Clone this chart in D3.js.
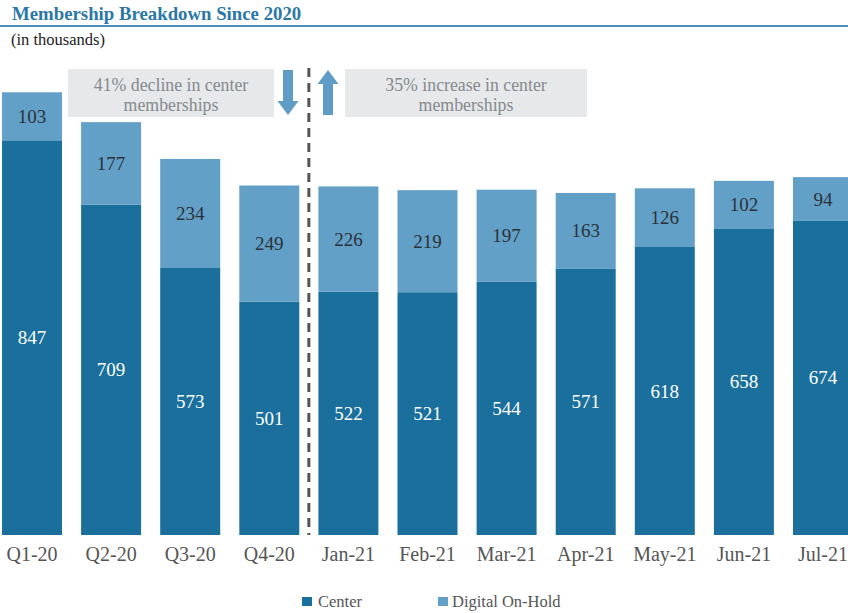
<!DOCTYPE html>
<html><head><meta charset="utf-8">
<script src="https://cdn.jsdelivr.net/npm/d3@7"></script>
<style>body{margin:0;background:#fff;}svg{display:block;}</style>
</head><body><svg id="c" width="848" height="613"></svg>
<script>
const categories = ["Q1-20","Q2-20","Q3-20","Q4-20","Jan-21","Feb-21","Mar-21","Apr-21","May-21","Jun-21","Jul-21"];
const center = [847,709,573,501,522,521,544,571,618,658,674];
const digital = [103,177,234,249,226,219,197,163,126,102,94];
const seriesNames = ["Center","Digital On-Hold"];
const colors = ["#1a6f9c","#62a0c8"];
const FONT = "Liberation Serif";

const svg = d3.select("#c");
const x = d3.scaleBand().domain(categories).range([2, 853]).paddingInner(0.2415).paddingOuter(0);
const y = d3.scaleLinear().domain([0, 1000]).range([535, 69]);

// title
svg.append("text").attr("x", 12).attr("y", 20).attr("font-family", FONT).attr("fill", "#2b78a6").attr("font-weight", "bold").attr("font-size", 18.8).text("Membership Breakdown Since 2020");
svg.append("line").attr("x1", 0).attr("x2", 848).attr("y1", 26).attr("y2", 26).attr("stroke", "#4b8fb8").attr("stroke-width", 2);
svg.append("text").attr("x", 11).attr("y", 45).attr("font-family", FONT).attr("fill", "#222").attr("font-size", 16.5).text("(in thousands)");

const data = categories.map((c, i) => ({c, center: center[i], digital: digital[i]}));
const stack = d3.stack().keys(["center","digital"])(data);

const g = svg.append("g");
stack.forEach((layer, li) => {
  g.selectAll(null).data(layer).enter().append("rect")
    .attr("x", d => x(d.data.c)).attr("width", x.bandwidth())
    .attr("y", d => y(d[1])).attr("height", d => y(d[0]) - y(d[1]))
    .attr("fill", colors[li]);
  g.selectAll(null).data(layer).enter().append("text")
    .attr("x", d => x(d.data.c) + x.bandwidth()/2)
    .attr("y", d => (y(d[0]) + y(d[1]))/2 + 6.5)
    .attr("text-anchor", "middle").attr("font-size", 19).attr("font-family", FONT)
    .attr("fill", li === 0 ? "#ffffff" : "#2b3238")
    .text(d => d[1] - d[0]);
});

// x axis labels
const xAxis = d3.axisBottom(x).tickSize(0).tickPadding(9);
const ax = svg.append("g").attr("transform", "translate(0,538)").call(xAxis);
ax.attr("font-family", FONT);
ax.select(".domain").remove();
ax.selectAll("text").attr("font-size", 20).attr("fill", "#555").attr("font-family", FONT);

// divider
const divX = (x("Q4-20") + x.bandwidth() + x("Jan-21")) / 2;
svg.append("line").attr("x1", divX).attr("x2", divX).attr("y1", 68).attr("y2", 535)
  .attr("stroke", "#555").attr("stroke-width", 3).attr("stroke-dasharray", "9,6");

// annotation boxes
function box(x0, x1, lines) {
  svg.append("rect").attr("x", x0).attr("y", 69).attr("width", x1 - x0).attr("height", 48).attr("fill", "#e6e8e9");
  lines.forEach((t, i) => svg.append("text").attr("x", (x0 + x1)/2).attr("y", 91 + i*20).attr("text-anchor", "middle")
    .attr("font-family", FONT).attr("font-size", 17.8).attr("fill", "#858a8e").text(t));
}
box(68, 274, ["41% decline in center", "memberships"]);
box(345, 587, ["35% increase in center", "memberships"]);

// arrows
function arrow(cx, down) {
  const top = 70, bot = 115, hw = 10.5, sw = 5, hh = 14;
  let p;
  if (down) p = [[cx-sw,top],[cx+sw,top],[cx+sw,bot-hh],[cx+hw,bot-hh],[cx,bot],[cx-hw,bot-hh],[cx-sw,bot-hh]];
  else p = [[cx-sw,bot],[cx+sw,bot],[cx+sw,top+hh],[cx+hw,top+hh],[cx,top],[cx-hw,top+hh],[cx-sw,top+hh]];
  svg.append("path").attr("d", d3.line()(p) + "Z").attr("fill", "#5f9dc6");
}
arrow(288, true);
arrow(328, false);

// legend
const leg = [[302, 318], [438, 452]];
seriesNames.forEach((n, i) => {
  svg.append("rect").attr("x", leg[i][0]).attr("y", 597).attr("width", 10).attr("height", 9).attr("fill", colors[i]);
  svg.append("text").attr("x", leg[i][1]).attr("y", 607).attr("font-family", FONT).attr("font-size", 16.5).attr("fill", "#555").text(n);
});
</script></body></html>
